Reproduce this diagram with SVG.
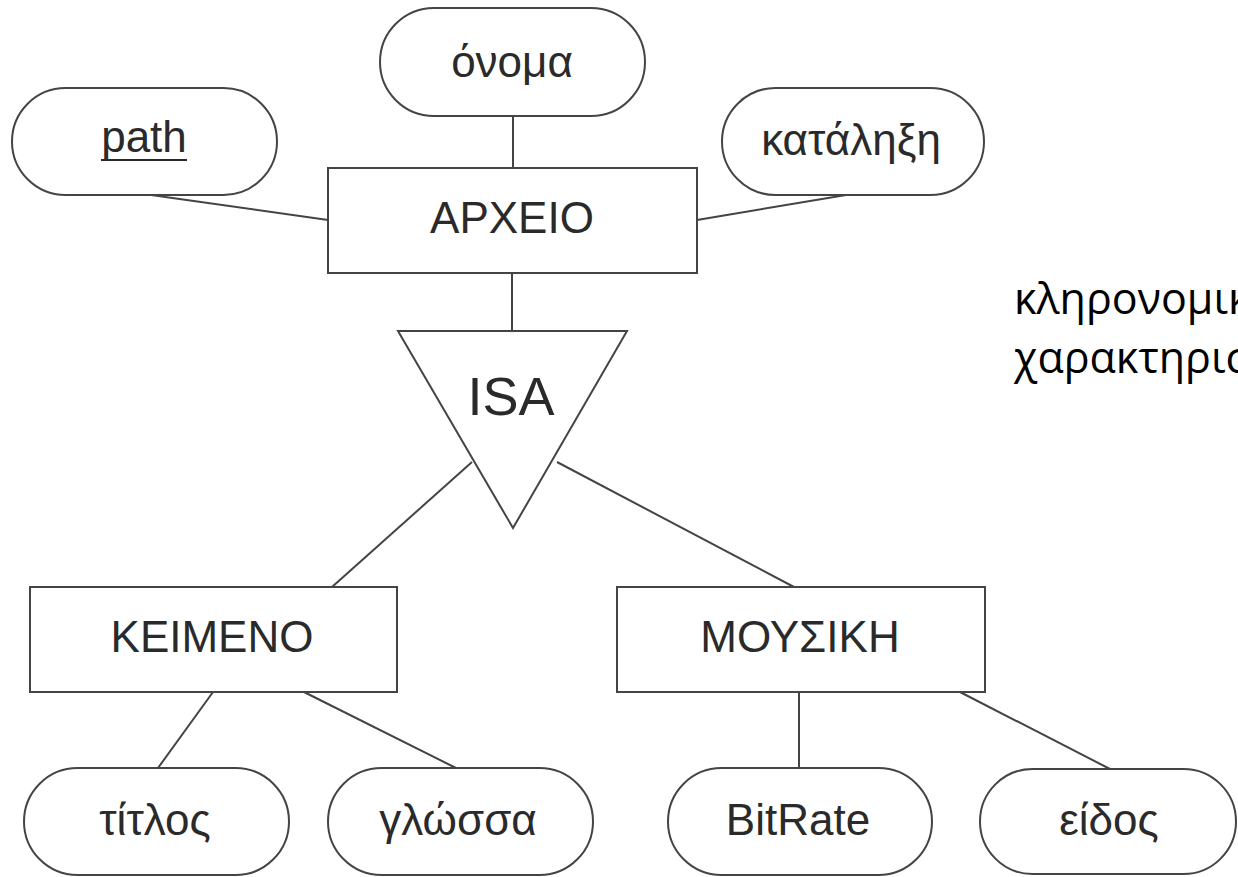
<svg xmlns="http://www.w3.org/2000/svg" width="1238" height="877" viewBox="0 0 1238 877">
<style>
.shape{fill:#fff;stroke:#444;stroke-width:2}
.lbl{font-family:"Liberation Sans",Arial,sans-serif;font-size:44px;fill:#2a2a2a;text-anchor:middle}
.conn line{stroke:#444;stroke-width:2}
.note{font-family:"Open Sans","Liberation Sans",sans-serif;font-size:43px;fill:#000}
</style>
<rect width="1238" height="877" fill="#fff"/>
<g id="connectors" class="conn">
<line x1="144" y1="194" x2="328" y2="220"/>
<line x1="697" y1="220" x2="852" y2="194"/>
<line x1="513" y1="116" x2="513" y2="168"/>
<line x1="512" y1="273" x2="512" y2="331"/>
<line x1="472" y1="462" x2="332" y2="587"/>
<line x1="557" y1="462" x2="794" y2="587"/>
<line x1="213" y1="692" x2="158" y2="768"/>
<line x1="304" y1="692" x2="456" y2="768"/>
<line x1="799" y1="692" x2="799" y2="768"/>
<line x1="960" y1="692" x2="1110" y2="769"/>
</g>
<g id="path">
<rect class="shape" x="12" y="88" width="265" height="107" rx="53.5"/>
<text class="lbl" x="144" y="152">path</text>
<line x1="101" y1="160" x2="187" y2="160" stroke="#2a2a2a" stroke-width="2"/>
</g>
<g id="onoma">
<rect class="shape" x="380" y="8" width="265" height="108" rx="54"/>
<text class="lbl" x="512" y="77">όνομα</text>
</g>
<g id="katalixi">
<rect class="shape" x="722" y="88" width="262" height="107" rx="53.5"/>
<text class="lbl" x="851" y="155">κατάληξη</text>
</g>
<g id="arxeio">
<rect class="shape" x="328" y="168" width="369" height="105"/>
<text class="lbl" x="512" y="233">ΑΡΧΕΙΟ</text>
</g>
<g id="isa">
<polygon class="shape" points="398,331 627,331 513,528"/>
<text class="lbl" x="511" y="415" style="font-size:54px">ISA</text>
</g>
<g id="keimeno">
<rect class="shape" x="30" y="587" width="367" height="105"/>
<text class="lbl" x="212" y="652">ΚΕΙΜΕΝΟ</text>
</g>
<g id="mousiki">
<rect class="shape" x="617" y="587" width="368" height="105"/>
<text class="lbl" x="800" y="652">ΜΟΥΣΙΚΗ</text>
</g>
<g id="titlos">
<rect class="shape" x="24" y="768" width="265" height="107" rx="53.5"/>
<text class="lbl" x="155" y="835">τίτλος</text>
</g>
<g id="glossa">
<rect class="shape" x="328" y="768" width="265" height="107" rx="53.5"/>
<text class="lbl" x="458" y="835">γλώσσα</text>
</g>
<g id="bitrate">
<rect class="shape" x="668" y="768" width="264" height="107" rx="53.5"/>
<text class="lbl" x="798" y="835">BitRate</text>
</g>
<g id="eidos">
<rect class="shape" x="980" y="769" width="256" height="105" rx="52.5"/>
<text class="lbl" x="1109" y="835">είδος</text>
</g>
<g id="note">
<text class="note" x="1014" y="314">κληρονομικά</text>
<text class="note" x="1014" y="373">χαρακτηριστικά</text>
</g>
</svg>
